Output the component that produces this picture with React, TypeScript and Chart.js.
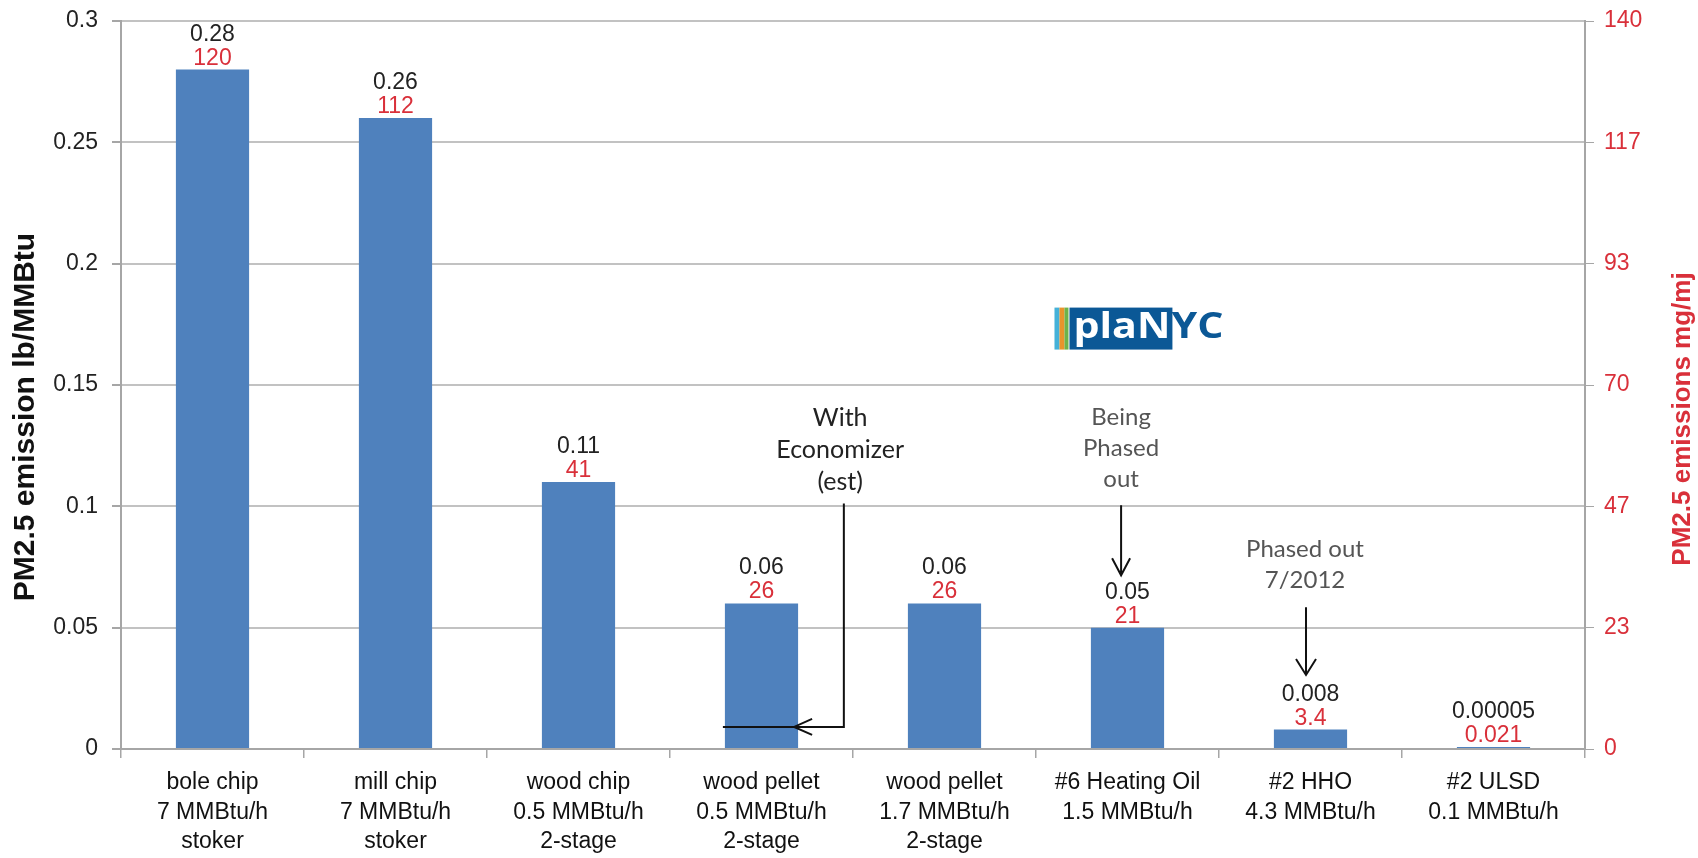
import React, { useEffect, useRef } from 'react';
import { Chart, registerables } from 'chart.js';

Chart.register(...registerables);

// Boiler / fuel categories (multi-line axis labels)
const categories: string[][] = [
  ['bole chip', '7 MMBtu/h', 'stoker'],
  ['mill chip', '7 MMBtu/h', 'stoker'],
  ['wood chip', '0.5 MMBtu/h', '2-stage'],
  ['wood pellet', '0.5 MMBtu/h', '2-stage'],
  ['wood pellet', '1.7 MMBtu/h', '2-stage'],
  ['#6 Heating Oil', '1.5 MMBtu/h'],
  ['#2 HHO', '4.3 MMBtu/h'],
  ['#2 ULSD', '0.1 MMBtu/h'],
];

// PM2.5 emission, lb/MMBtu (left axis)
const lbPerMMBtu = [0.28, 0.26, 0.11, 0.06, 0.06, 0.05, 0.008, 0.00005];

// Same emissions expressed in mg/MJ (right axis labels)
const mgPerMJ = ['120', '112', '41', '26', '26', '21', '3.4', '0.021'];

// Left axis tick labels
const leftTickLabels = ['0', '0.05', '0.1', '0.15', '0.2', '0.25', '0.3'];
const leftMax = 0.3;

// Right axis tick labels (0..140 in six steps)
const rightTickLabels = ['0', '23', '47', '70', '93', '117', '140'];
const rightMax = 140;

const LEFT_TITLE = 'PM2.5 emission lb/MMBtu';
const RIGHT_TITLE = 'PM2.5 emissions mg/mj';

const SANS = '"Liberation Sans", Arial, sans-serif';
const NOTE = 'Lato, "Open Sans", sans-serif';
const RED = '#d9303a';
const BAR = '#4f81bd';

function arrowDown(ctx: CanvasRenderingContext2D, x: number, y0: number, y1: number, w: number, h: number) {
  ctx.beginPath();
  ctx.moveTo(x, y0);
  ctx.lineTo(x, y1);
  ctx.moveTo(x - w, y1 - h);
  ctx.lineTo(x, y1);
  ctx.lineTo(x + w, y1 - h);
  ctx.stroke();
}

const overlayPlugin = {
  id: 'overlay',
  afterDatasetsDraw(chart: any) {
    const ctx: CanvasRenderingContext2D = chart.ctx;
    const xs = chart.scales.x;
    const ys = chart.scales.y;
    const meta = chart.getDatasetMeta(0);

    // value labels above each bar
    ctx.save();
    ctx.textAlign = 'center';
    ctx.textBaseline = 'alphabetic';
    meta.data.forEach((bar: any, i: number) => {
      ctx.font = `23px ${SANS}`;
      ctx.fillStyle = RED;
      ctx.fillText(mgPerMJ[i], bar.x, bar.y - 5);
      ctx.fillStyle = '#222';
      ctx.fillText(String(lbPerMMBtu[i]), bar.x, bar.y - 29);
    });
    ctx.restore();

    // "With Economizer (est)" callout pointing at the 0.5 MMBtu/h pellet bar
    const pellet = meta.data[3];
    ctx.save();
    ctx.fillStyle = '#222';
    ctx.font = `25px ${NOTE}`;
    ctx.textAlign = 'center';
    ctx.textBaseline = 'middle';
    const ex = xs.getPixelForValue(3.43);
    const ey = ys.getPixelForValue(0.1366);
    ['With', 'Economizer', '(est)'].forEach((t, k) => ctx.fillText(t, ex, ey + k * 32));
    const vx = xs.getPixelForValue(3.45);
    const topY = ys.getPixelForValue(0.1012);
    const hy = ys.getPixelForValue(0.0091);
    const left = pellet.x - pellet.width / 2 - 2;
    const tip = pellet.x + pellet.width / 2 - 4;
    ctx.strokeStyle = '#111';
    ctx.lineWidth = 2;
    ctx.beginPath();
    ctx.moveTo(vx, topY);
    ctx.lineTo(vx, hy);
    ctx.lineTo(left, hy);
    ctx.stroke();
    ctx.beginPath();
    ctx.moveTo(tip + 18, hy - 8);
    ctx.lineTo(tip, hy);
    ctx.lineTo(tip + 18, hy + 8);
    ctx.stroke();
    ctx.restore();

    // "Being Phased out" callout over #6 heating oil
    ctx.save();
    ctx.fillStyle = '#555';
    ctx.strokeStyle = '#111';
    ctx.lineWidth = 2;
    ctx.font = `24px ${NOTE}`;
    ctx.textAlign = 'center';
    ctx.textBaseline = 'middle';
    const bx = xs.getPixelForValue(4.965);
    const by = ys.getPixelForValue(0.1366);
    ['Being', 'Phased', 'out'].forEach((t, k) => ctx.fillText(t, bx, by + k * 31));
    arrowDown(ctx, bx, ys.getPixelForValue(0.1004), ys.getPixelForValue(0.0716), 9, 17);

    // "Phased out 7/2012" callout over #2 HHO
    const px = xs.getPixelForValue(5.97);
    const py = ys.getPixelForValue(0.0823);
    ['Phased out', '7/2012'].forEach((t, k) => ctx.fillText(t, px, py + k * 31));
    arrowDown(ctx, px + 1, ys.getPixelForValue(0.0584), ys.getPixelForValue(0.0305), 10, 16);
    ctx.restore();

    // planYC logo
    ctx.save();
    const lx = xs.getPixelForValue(4.601);
    const lt = ys.getPixelForValue(0.1819);
    const lb = ys.getPixelForValue(0.1646);
    const lh = lb - lt;
    ctx.font = `bold 36px "Open Sans", ${SANS}`;
    ctx.textBaseline = 'alphabetic';
    ctx.textAlign = 'left';
    const w1 = ctx.measureText('plaN').width;
    const w2 = ctx.measureText('YC').width;
    const target = 150;
    const sx = target / (w1 + w2 + 1);
    const textX = lx + 19;
    const boxRight = textX + w1 * sx + 2;
    ctx.fillStyle = '#45b1d8';
    ctx.fillRect(lx, lt, 5, lh);
    ctx.fillStyle = '#e8942b';
    ctx.fillRect(lx + 5, lt, 5, lh);
    ctx.fillStyle = '#6db34a';
    ctx.fillRect(lx + 10, lt, 4, lh);
    ctx.fillStyle = '#0b5896';
    ctx.fillRect(lx + 15, lt, boxRight - (lx + 15), lh);
    ctx.translate(textX, lb - 12);
    ctx.scale(sx, 1);
    ctx.fillStyle = '#ffffff';
    ctx.fillText('plaN', 0, 0);
    ctx.fillStyle = '#0b5896';
    ctx.fillText('YC', w1 + 1, 0);
    ctx.restore();
  },
  afterDraw(chart: any) {
    const ctx: CanvasRenderingContext2D = chart.ctx;
    const area = chart.chartArea;
    const midY = (area.top + area.bottom) / 2;
    ctx.save();
    ctx.textAlign = 'center';
    ctx.textBaseline = 'middle';
    ctx.translate(26, midY + 32);
    ctx.rotate(-Math.PI / 2);
    ctx.font = `bold 30px ${SANS}`;
    ctx.fillStyle = '#111';
    ctx.fillText(LEFT_TITLE, 0, 0);
    ctx.restore();

    ctx.save();
    ctx.textAlign = 'center';
    ctx.textBaseline = 'middle';
    ctx.translate(1683, midY + 34);
    ctx.rotate(-Math.PI / 2);
    ctx.font = `bold 26px ${SANS}`;
    ctx.fillStyle = RED;
    ctx.fillText(RIGHT_TITLE, 0, 0);
    ctx.restore();
  },
};

export default function App() {
  const canvasRef = useRef<HTMLCanvasElement | null>(null);

  useEffect(() => {
    document.body.style.margin = '0';
    const canvas = canvasRef.current;
    if (!canvas) return;
    const W = 1698;
    const H = 858;
    const chart = new Chart(canvas, {
      type: 'bar',
      data: {
        labels: categories,
        datasets: [
          {
            data: lbPerMMBtu,
            backgroundColor: BAR,
            borderWidth: 0,
            categoryPercentage: 1,
            barPercentage: 0.4,
            minBarLength: 2,
            yAxisID: 'y',
          },
        ],
      },
      options: {
        responsive: false,
        animation: false,
        devicePixelRatio: 1,
        layout: { padding: { top: 21, left: 0, right: 0, bottom: 0 } },
        plugins: {
          legend: { display: false },
          title: { display: false },
          tooltip: { enabled: false },
        },
        scales: {
          x: {
            type: 'category',
            offset: true,
            grid: {
              display: true,
              drawOnChartArea: false,
              drawTicks: true,
              tickLength: 9,
              offset: true,
              color: '#a6a6a6',
              lineWidth: 1.5,
            },
            border: { display: true, color: '#a6a6a6', width: 2 },
            ticks: {
              color: '#111',
              font: { family: SANS, size: 23, lineHeight: 1.28 },
              padding: 10,
              maxRotation: 0,
              minRotation: 0,
              autoSkip: false,
            },
            afterFit(scale: any) {
              scale.height = H - 749;
            },
          },
          y: {
            type: 'linear',
            position: 'left',
            min: 0,
            max: leftMax,
            afterBuildTicks(scale: any) {
              scale.ticks = leftTickLabels.map((_, i) => ({ value: (i * leftMax) / (leftTickLabels.length - 1) }));
            },
            ticks: {
              color: '#222',
              font: { family: SANS, size: 23 },
              padding: 14,
              callback: (_v: any, i: number) => leftTickLabels[i],
            },
            grid: {
              color: '#c2c2c2',
              lineWidth: 2,
              drawTicks: true,
              tickLength: 9,
              tickColor: '#a6a6a6',
            },
            border: { display: true, color: '#a6a6a6', width: 2 },
            afterFit(scale: any) {
              scale.width = 121;
              scale.paddingTop = 0;
              scale.paddingBottom = 0;
            },
          },
          y2: {
            type: 'linear',
            position: 'right',
            min: 0,
            max: rightMax,
            afterBuildTicks(scale: any) {
              scale.ticks = rightTickLabels.map((_, i) => ({ value: (i * rightMax) / (rightTickLabels.length - 1) }));
            },
            ticks: {
              color: RED,
              font: { family: SANS, size: 23 },
              padding: 10,
              callback: (_v: any, i: number) => rightTickLabels[i],
            },
            grid: {
              drawOnChartArea: false,
              drawTicks: true,
              tickLength: 9,
              color: '#a6a6a6',
            },
            border: { display: true, color: '#a6a6a6', width: 2 },
            afterFit(scale: any) {
              scale.width = W - 1585;
              scale.paddingTop = 0;
              scale.paddingBottom = 0;
            },
          },
        },
      },
      plugins: [overlayPlugin],
    });
    return () => chart.destroy();
  }, []);

  return (
    <div style={{ position: 'absolute', left: 0, top: 0, width: 1698, height: 858, background: '#fff' }}>
      <canvas ref={canvasRef} width={1698} height={858} style={{ width: 1698, height: 858, display: 'block' }} />
    </div>
  );
}
